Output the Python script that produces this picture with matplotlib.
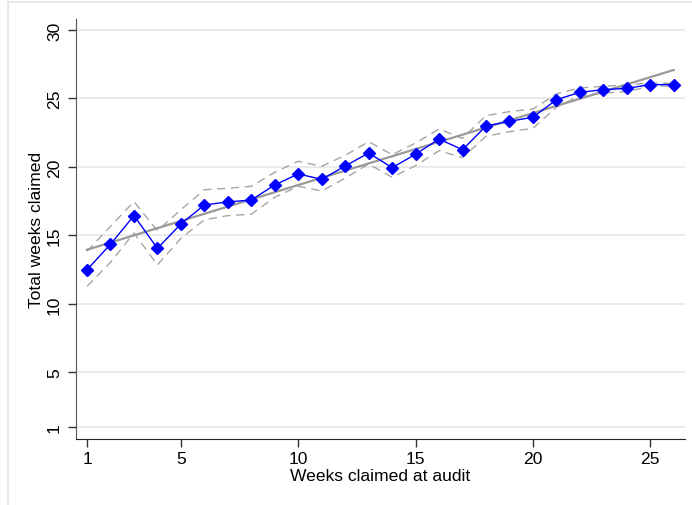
import matplotlib.pyplot as plt
from matplotlib.lines import Line2D

plt.rcParams['font.family'] = ['Liberation Sans', 'DejaVu Sans']

# weeks claimed at audit
weeks = list(range(1, 27))

# mean total weeks claimed
mean_claimed = [12.50, 14.36, 16.45, 14.06, 15.84, 17.23, 17.45, 17.59, 18.69, 19.49,
                19.10, 20.07, 21.02, 19.95, 20.93, 22.04, 21.26, 22.99, 23.33, 23.63,
                24.91, 25.45, 25.64, 25.74, 26.01, 26.01]

# confidence band
ci_upper = [13.85, 15.67, 17.47, 15.35, 16.88, 18.34, 18.44, 18.59, 19.61, 20.42,
            20.05, 20.85, 21.85, 20.90, 21.75, 22.77, 22.09, 23.75, 24.04, 24.23,
            25.33, 25.77, 25.89, 25.99, 26.13, 26.10]
ci_lower = [11.29, 13.04, 15.18, 12.85, 14.79, 16.15, 16.45, 16.55, 17.79, 18.59,
            18.25, 19.18, 20.22, 19.25, 20.10, 21.19, 20.68, 22.24, 22.58, 22.82,
            24.36, 25.20, 25.40, 25.50, 25.89, 25.92]

# fitted line end points
fit_x = [1, 26]
fit_y = [13.96, 27.08]

fig = plt.figure(figsize=(6.92, 5.06), dpi=100)
ax = fig.add_axes([76/692, 1-440/506, (685-76)/692, (440-20)/506])

# outer frame of the graph region (left and top edges)
fx, fy = 7.5/692, 1 - 3/506
fig.add_artist(Line2D([fx, fx], [0, fy], transform=fig.transFigure,
                      color='#e4e4e4', linewidth=1.2))
fig.add_artist(Line2D([fx, 1], [fy, fy], transform=fig.transFigure,
                      color='#e4e4e4', linewidth=1.2))

yticks = [1, 5, 10, 15, 20, 25, 30]
xticks = [1, 5, 10, 15, 20, 25]

for t in yticks:
    ax.axhline(t, color='#e8e8e8', linewidth=1.2, zorder=0)

ax.plot(weeks, ci_upper, color='#a6a6a6', linestyle=(0, (6, 4)), linewidth=1)
ax.plot(weeks, ci_lower, color='#a6a6a6', linestyle=(0, (6, 4)), linewidth=1)
ax.plot(fit_x, fit_y, color='#999999', linewidth=1.6)
ax.plot(weeks, mean_claimed, color='#0000ff', linewidth=1, marker='D',
        markersize=6, markerfacecolor='#0000ff', markeredgecolor='#0000ff')

ax.set_xlim(0.53, 26.48)
ax.set_ylim(0.146, 30.8)
ax.set_xticks(xticks)
ax.set_yticks(yticks)
ax.set_yticklabels([str(t) for t in yticks], rotation=90, va='center')
ax.tick_params(axis='both', labelsize=12.6, length=6, width=1, color='#333333')
ax.tick_params(axis='x', pad=3)
ax.tick_params(axis='y', pad=4)

ax.spines['top'].set_visible(False)
ax.spines['right'].set_visible(False)
ax.spines['left'].set_color('#555555')
ax.spines['bottom'].set_color('#222222')

ax.set_xlabel('Weeks claimed at audit', fontsize=12.6, labelpad=1)
ax.set_ylabel('Total weeks claimed', fontsize=12.6, labelpad=2)

fig.savefig('out.png', dpi=100)
